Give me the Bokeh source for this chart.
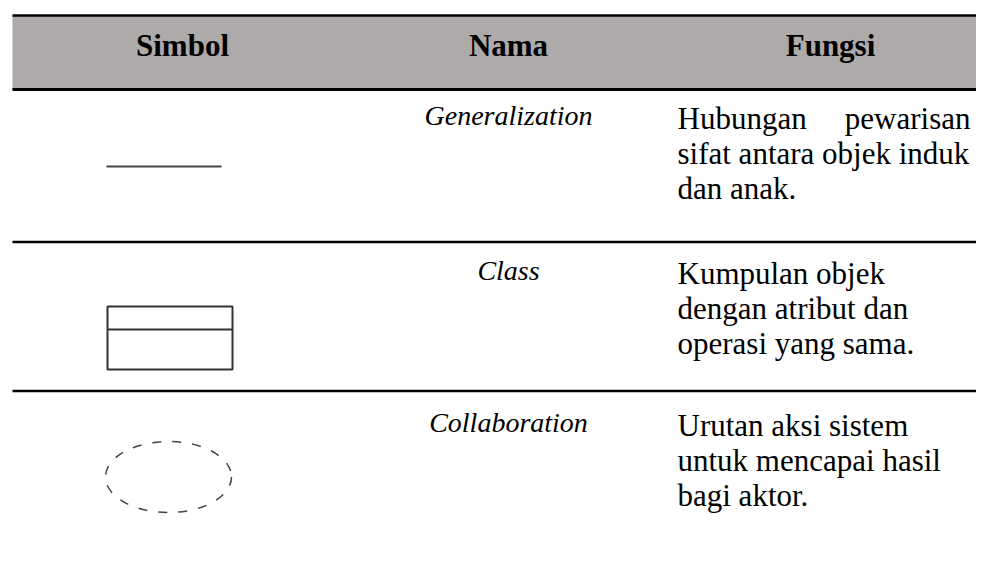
from bokeh.plotting import figure
from bokeh.models import Range1d, ColumnDataSource
from bokeh.core.properties import value
from bokeh.embed import file_html
from bokeh.resources import INLINE

# ---- data (text content only) ----
headers = ["Simbol", "Nama", "Fungsi"]
names = ["Generalization", "Class", "Collaboration"]
descriptions = [
    ["Hubungan pewarisan", "sifat antara objek induk", "dan anak."],
    ["Kumpulan objek", "dengan atribut dan", "operasi yang sama."],
    ["Urutan aksi sistem", "untuk mencapai hasil", "bagi aktor."],
]
justified = [True, False, False]
symbols = ["line", "class", "ellipse"]

# ---- layout (pixel coordinates) ----
W, H = 976, 556
x0, y0 = 0, 0
col_centers = [182, 508]
fungsi_center = 830
fungsi_left, fungsi_right = 677, 970
table_left, table_right = 12, 992
header_top, header_bottom = 15, 89
row_lines = [241.5, 390.5]
row_baselines = [118, 273, 425]
line_step = 35
header_baseline = 45
FONT = "Liberation Serif"

p = figure(width=W, height=H, output_backend="svg", toolbar_location=None,
           x_range=Range1d(x0, x0 + W), y_range=Range1d(y0 + H, y0),
           min_border=0, outline_line_color=None, background_fill_color="white",
           border_fill_color="white")
p.axis.visible = False
p.xgrid.visible = False
p.ygrid.visible = False

# header band
p.quad(left=[table_left], right=[table_right], top=[header_top], bottom=[header_bottom],
       fill_color="#aeaaaa", line_color=None)
# rules
p.segment(x0=[table_left], x1=[table_right], y0=[header_top], y1=[header_top],
          line_color="black", line_width=2.5)
p.segment(x0=[table_left], x1=[table_right], y0=[header_bottom], y1=[header_bottom],
          line_color="black", line_width=3)
p.segment(x0=[table_left] * len(row_lines), x1=[table_right] * len(row_lines),
          y0=row_lines, y1=row_lines, line_color="black", line_width=2.5)

# header texts
hx = col_centers + [fungsi_center]
p.text(x=hx, y=[header_baseline] * 3, text=headers, text_font=value(FONT),
       text_font_style="bold", text_font_size="31px", text_align="center",
       text_baseline="alphabetic", text_color="black")

# name column (italic)
p.text(x=[col_centers[1]] * len(names), y=[b - 3 for b in row_baselines], text=names,
       text_font=value(FONT), text_font_style="italic", text_font_size="28px",
       text_align="center", text_baseline="alphabetic", text_color="black")

# description column
lx, ly, lt, la = [], [], [], []
for r, lines in enumerate(descriptions):
    for i, line in enumerate(lines):
        y = row_baselines[r] + i * line_step
        words = line.split(" ")
        if justified[r] and i == 0 and len(words) > 1:
            lx += [fungsi_left, fungsi_right]
            ly += [y, y]
            lt += [words[0], " ".join(words[1:])]
            la += ["left", "right"]
        else:
            lx.append(fungsi_left)
            ly.append(y)
            lt.append(line)
            la.append("left")
src = ColumnDataSource(dict(x=lx, y=ly, text=lt, align=la))
p.text(x="x", y="y", text="text", text_align="align", source=src,
       text_font=value(FONT), text_font_size="31px", text_baseline="alphabetic",
       text_color="black")

# symbols
for kind in symbols:
    if kind == "line":
        p.segment(x0=[106], x1=[221], y0=[166], y1=[166], line_color="#444444", line_width=2)
    elif kind == "class":
        p.quad(left=[107], right=[232], top=[306], bottom=[369], fill_color=None,
               line_color="#333333", line_width=2)
        p.segment(x0=[107], x1=[232], y0=[329], y1=[329], line_color="#333333", line_width=2)
    elif kind == "ellipse":
        p.ellipse(x=[168], y=[476.5], width=[126], height=[71], fill_color=None,
                  line_color="#444444", line_width=1.5, line_dash="9 11")

open("out.html", "w").write(file_html(p, INLINE))
